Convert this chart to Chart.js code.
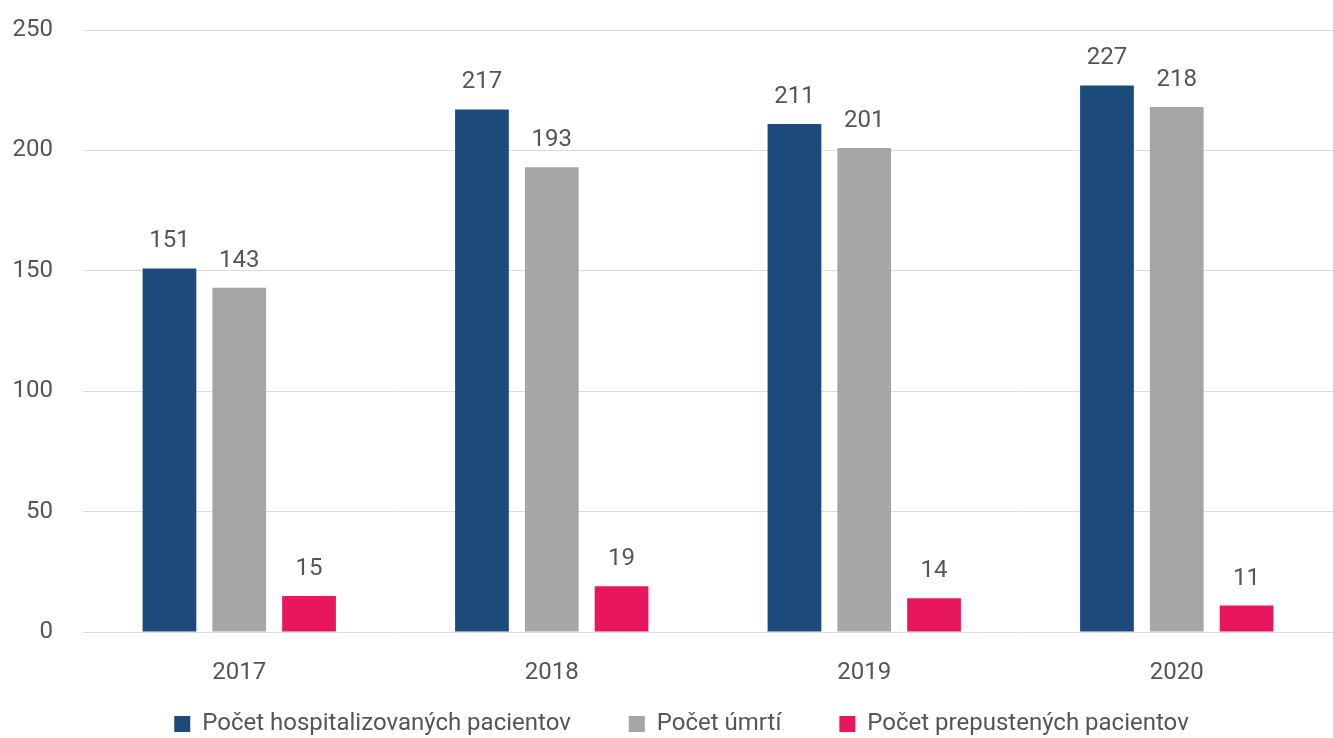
<!DOCTYPE html>
<html>
<head>
<meta charset="utf-8">
<script src="https://cdn.jsdelivr.net/npm/chart.js@4.4.0/dist/chart.umd.min.js"></script>
<style>
  html, body { margin: 0; padding: 0; background: #fff; }
  #wrap { width: 1333px; height: 738px; }
</style>
</head>
<body>
<div id="wrap"><canvas id="chart"></canvas></div>
<script>
const years = ['2017', '2018', '2019', '2020'];
const hospitalized = [151, 217, 211, 227];
const deaths = [143, 193, 201, 218];
const discharged = [15, 19, 14, 11];
const yTicks = [0, 50, 100, 150, 200, 250];

const fontFamily = 'Roboto, "Noto Sans", sans-serif';
const textColor = '#555';

// draws the value above each bar
const valueLabels = {
    id: 'valueLabels',
    afterDatasetsDraw(chart) {
        const ctx = chart.ctx;
        ctx.save();
        ctx.font = '24px ' + fontFamily;
        ctx.fillStyle = textColor;
        ctx.textAlign = 'center';
        ctx.textBaseline = 'alphabetic';
        chart.data.datasets.forEach((ds, i) => {
            chart.getDatasetMeta(i).data.forEach((bar, j) => {
                ctx.fillText(ds.data[j], bar.x, bar.y - 21);
            });
        });
        ctx.restore();
    }
};

new Chart(document.getElementById('chart'), {
    type: 'bar',
    data: {
        labels: years,
        datasets: [
            { label: 'Počet hospitalizovaných pacientov', data: hospitalized, backgroundColor: '#1c4a7a' },
            { label: 'Počet úmrtí', data: deaths, backgroundColor: '#a6a6a6' },
            { label: 'Počet prepustených pacientov', data: discharged, backgroundColor: '#e8175d' }
        ]
    },
    options: {
        responsive: true,
        maintainAspectRatio: false,
        animation: false,
        layout: { autoPadding: false, padding: { top: 30, right: -6, left: 24, bottom: -8 } },
        datasets: {
            bar: { categoryPercentage: 0.67, barPercentage: 0.77 }
        },
        scales: {
            x: {
                afterFit(scale) {
                    scale.height = 22;
                    // year labels sit below the short axis box, so don't clip them
                    scale._computeLabelArea = () => undefined;
                },
                grid: { display: false, drawTicks: false },
                border: { display: false },
                ticks: { color: textColor, font: { size: 24, family: fontFamily }, padding: 27 }
            },
            y: {
                min: 0,
                max: 250,
                afterBuildTicks(scale) {
                    scale.ticks = yTicks.map(v => ({ value: v }));
                },
                afterFit(scale) {
                    scale.width = 59;
                    scale.paddingTop = 0;
                    scale.paddingBottom = 0;
                    scale._computeLabelArea = () => undefined;
                },
                grid: { color: '#dcdcdc', drawTicks: false },
                border: { display: false },
                ticks: { color: textColor, font: { size: 24, family: fontFamily }, padding: 30 }
            }
        },
        plugins: {
            legend: {
                position: 'bottom',
                labels: {
                    color: textColor,
                    font: { size: 24, family: fontFamily },
                    boxWidth: 16,
                    boxHeight: 16,
                    padding: 58
                }
            },
            tooltip: { enabled: false }
        }
    },
    plugins: [valueLabels]
});
</script>
</body>
</html>
